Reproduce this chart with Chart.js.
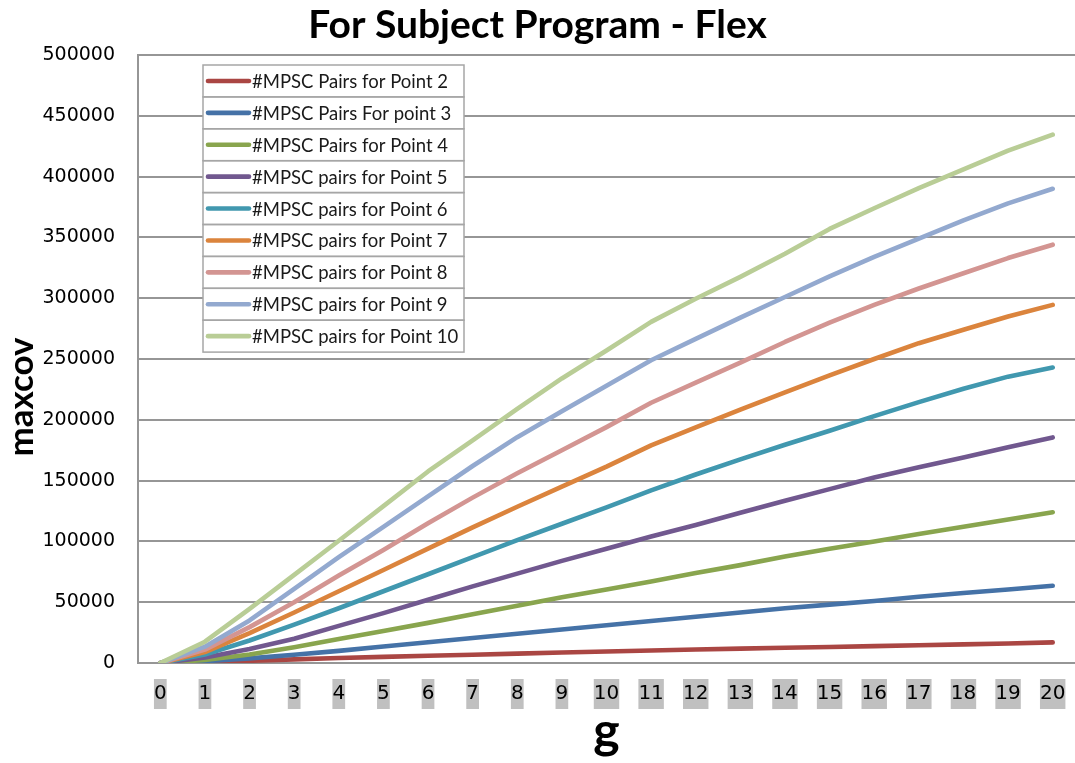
<!DOCTYPE html>
<html>
<head>
<meta charset="utf-8">
<title>For Subject Program - Flex</title>
<script src="https://cdn.jsdelivr.net/npm/chart.js@4.4.1/dist/chart.umd.min.js"></script>
<style>
  html, body { margin: 0; padding: 0; background: #ffffff; }
  #wrap { width: 1075px; height: 763px; }
</style>
</head>
<body>
<div id="wrap"><canvas id="chart" width="1075" height="763"></canvas></div>
<script>
// ---- data ----
const categories = ['0','1','2','3','4','5','6','7','8','9','10','11','12','13','14','15','16','17','18','19','20'];
const yTickValues = [0, 50000, 100000, 150000, 200000, 250000, 300000, 350000, 400000, 450000, 500000];

const chartTitle = 'For Subject Program - Flex';
const xTitle = 'g';
const yTitle = 'maxcov';

const seriesLabels = [
  '#MPSC Pairs for Point 2',
  '#MPSC Pairs For point 3',
  '#MPSC Pairs for Point 4',
  '#MPSC pairs for Point 5',
  '#MPSC pairs for Point 6',
  '#MPSC pairs for Point 7',
  '#MPSC pairs for Point 8',
  '#MPSC pairs for Point 9',
  '#MPSC pairs for Point 10'
];

const pairsPoint2  = [0, 1000, 1800, 3000, 4100, 5000, 5900, 6800, 7700, 8600, 9500, 10300, 11100, 11800, 12500, 13200, 13900, 14600, 15300, 16000, 17000];
const pairsPoint3  = [0, 1500, 3800, 6800, 10000, 13500, 17000, 20500, 24000, 27500, 31000, 34500, 38000, 41500, 45000, 48000, 51000, 54500, 57500, 60500, 63500];
const pairsPoint4  = [0, 2500, 7000, 13000, 19700, 26300, 33000, 40000, 47000, 54000, 60500, 67000, 74000, 80500, 87500, 94000, 100000, 106000, 112000, 118000, 124000];
const pairsPoint5  = [0, 4500, 11500, 20000, 30500, 41000, 52000, 63000, 73500, 84000, 94000, 104000, 113500, 123500, 133500, 143000, 152500, 161000, 169000, 177500, 185500];
const pairsPoint6  = [0, 7000, 18500, 31500, 45000, 59000, 73000, 87000, 101000, 114500, 128000, 142000, 155000, 167500, 179500, 191000, 203000, 214500, 225500, 235500, 243000];
const pairsPoint7  = [0, 9000, 24500, 41500, 59000, 76500, 94000, 111500, 128500, 145000, 161500, 179000, 193800, 208300, 222500, 236500, 250000, 263000, 274000, 285000, 294500];
const pairsPoint8  = [0, 11000, 29500, 50000, 72000, 93000, 115000, 136000, 156000, 175000, 194000, 214000, 230500, 247000, 264000, 280000, 294500, 308000, 320500, 333000, 344000];
const pairsPoint9  = [0, 13400, 35000, 61000, 87000, 112000, 137000, 162000, 185700, 207000, 228000, 249000, 266500, 284000, 301000, 318000, 334000, 349000, 364000, 378000, 390000];
const pairsPoint10 = [0, 17500, 44500, 72500, 100500, 129000, 157500, 183000, 209000, 234000, 257000, 280500, 299500, 317500, 336500, 357000, 374000, 390500, 406000, 421300, 434500];

const seriesValues = [pairsPoint2, pairsPoint3, pairsPoint4, pairsPoint5, pairsPoint6,
                      pairsPoint7, pairsPoint8, pairsPoint9, pairsPoint10];

const seriesColors = ['#AA4643', '#4572A7', '#89A54E', '#71588F', '#4198AF',
                      '#DB843D', '#D39592', '#93A9CF', '#B9CD96'];

// ---- styling ----
const GRID = '#969696';
const LINE_W = 4.6;

const datasets = seriesValues.map((vals, i) => ({
  label: seriesLabels[i],
  data: vals,
  borderColor: seriesColors[i],
  backgroundColor: seriesColors[i],
  borderWidth: LINE_W,
  borderCapStyle: 'round',
  borderJoinStyle: 'round',
  pointRadius: 0,
  pointHoverRadius: 0,
  tension: 0,
  fill: false,
  // later series are painted over earlier ones
  order: seriesValues.length - i
}));

// Boxed legend inside the plot area, one bordered cell per series
const boxedLegend = {
  id: 'boxedLegend',
  afterDatasetsDraw(chart) {
    const ctx = chart.ctx;
    const left = 203, top = 65, width = 261, rowH = 31.9;
    const sets = chart.data.datasets;
    ctx.save();
    ctx.fillStyle = '#ffffff';
    ctx.fillRect(left, top, width, rowH * sets.length);
    sets.forEach((ds, i) => {
      const y = top + i * rowH;
      ctx.strokeStyle = '#a6a6a6';
      ctx.lineWidth = 1.5;
      ctx.strokeRect(left, y, width, rowH);
      const cy = y + rowH / 2;
      ctx.strokeStyle = ds.borderColor;
      ctx.lineWidth = LINE_W;
      ctx.lineCap = 'round';
      ctx.beginPath();
      ctx.moveTo(208, cy);
      ctx.lineTo(249, cy);
      ctx.stroke();
      ctx.fillStyle = '#1a1a1a';
      ctx.font = '18.5px Lato';
      ctx.textAlign = 'left';
      ctx.textBaseline = 'middle';
      ctx.fillText(ds.label, 252, cy + 1);
    });
    ctx.restore();
  }
};

// Rotated value-axis caption
const valueAxisCaption = {
  id: 'valueAxisCaption',
  afterDraw(chart) {
    const ctx = chart.ctx;
    ctx.save();
    ctx.translate(22, 397);
    ctx.rotate(-Math.PI / 2);
    ctx.fillStyle = '#000000';
    ctx.font = 'bold 35px Lato';
    ctx.textAlign = 'center';
    ctx.textBaseline = 'middle';
    ctx.fillText(yTitle, 0, 0);
    ctx.restore();
  }
};

new Chart(document.getElementById('chart'), {
  type: 'line',
  data: { labels: categories, datasets },
  options: {
    responsive: false,
    animation: false,
    devicePixelRatio: 1,
    layout: { padding: 0 },
    plugins: {
      legend: { display: false },
      tooltip: { enabled: false },
      title: {
        display: true,
        text: chartTitle,
        color: '#000000',
        font: { family: 'Lato', weight: 'bold', size: 39, lineHeight: 1.2 },
        padding: { top: 2, bottom: 6.2 }
      }
    },
    scales: {
      x: {
        offset: true,
        grid: { display: false, drawTicks: false },
        border: { display: true, color: GRID, width: 2 },
        ticks: {
          color: '#000000',
          font: { family: 'DejaVu Sans', size: 20, lineHeight: 1.2 },
          padding: 19,
          autoSkip: false,
          maxRotation: 0,
          showLabelBackdrop: true,
          backdropColor: '#c0c0c0',
          backdropPadding: { top: 3, bottom: 3, left: 0, right: 0 }
        },
        title: {
          display: true,
          text: xTitle,
          color: '#000000',
          font: { family: 'Lato', weight: 'bold', size: 50, lineHeight: 1.0 },
          padding: { top: 0, bottom: 6 }
        },
        afterFit(scale) {
          scale.height = 100;
          // the category bands run right up to both plot edges
          scale.paddingLeft = 0;
          scale.paddingRight = 0;
        }
      },
      y: {
        min: 0,
        max: 500000,
        afterBuildTicks(scale) { scale.ticks = yTickValues.map(v => ({ value: v })); },
        grid: { color: GRID, lineWidth: 2, drawTicks: false },
        border: { display: true, color: GRID, width: 2 },
        ticks: {
          color: '#000000',
          font: { family: 'DejaVu Sans', size: 19 },
          padding: 23,
          callback: v => String(v)
        },
        afterFit(scale) {
          scale.width = 138;
          scale.paddingTop = 0;
          scale.paddingBottom = 0;
        }
      }
    }
  },
  plugins: [boxedLegend, valueAxisCaption]
});
</script>
</body>
</html>
